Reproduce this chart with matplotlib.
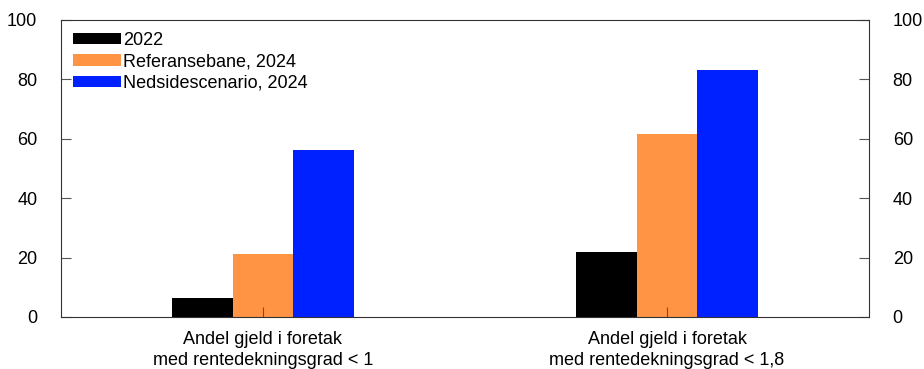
import numpy as np
import matplotlib
matplotlib.use('Agg')
import matplotlib.pyplot as plt

plt.rcParams['font.family'] = ['Liberation Sans', 'DejaVu Sans']

# Data
categories = ['Andel gjeld i foretak\nmed rentedekningsgrad < 1',
              'Andel gjeld i foretak\nmed rentedekningsgrad < 1,8']
series_names = ['2022', 'Referansebane, 2024', 'Nedsidescenario, 2024']
values_2022 = [6.4, 21.9]
values_ref = [21.2, 61.6]
values_ned = [56.2, 83.2]
colors = ['#000000', '#FF9444', '#0021FF']

fig = plt.figure(figsize=(9.24, 3.69), dpi=100)
ax = fig.add_axes([0.066, 0.141, 0.8745, 0.805])

x = np.arange(len(categories))
width = 0.15
for i, (vals, name, c) in enumerate(zip([values_2022, values_ref, values_ned], series_names, colors)):
    ax.bar(x + (i - 1) * width, vals, width, color=c, label=name)

ax.set_xlim(-0.5, 1.5)
ax.set_ylim(0, 100)
ax.set_yticks(range(0, 101, 20))
ax.set_xticks(x)
ax.set_xticklabels(categories, fontsize=13, linespacing=1.3)
ax.tick_params(axis='y', direction='in', length=7, width=0.8, color='#555555',
               labelsize=13, right=True, labelright=True, pad=17)
ax.tick_params(axis='x', direction='in', length=7, width=0.8, color='#555555', pad=10)
for s in ax.spines.values():
    s.set_linewidth(0.8)
    s.set_color('#333333')

ax.legend(loc='upper left', frameon=False, fontsize=13, handlelength=2.7,
          handleheight=0.6, handletextpad=0.1, labelspacing=0.25,
          borderaxespad=0.25, bbox_to_anchor=(0.0, 1.0))

fig.savefig('out.png', dpi=100)
